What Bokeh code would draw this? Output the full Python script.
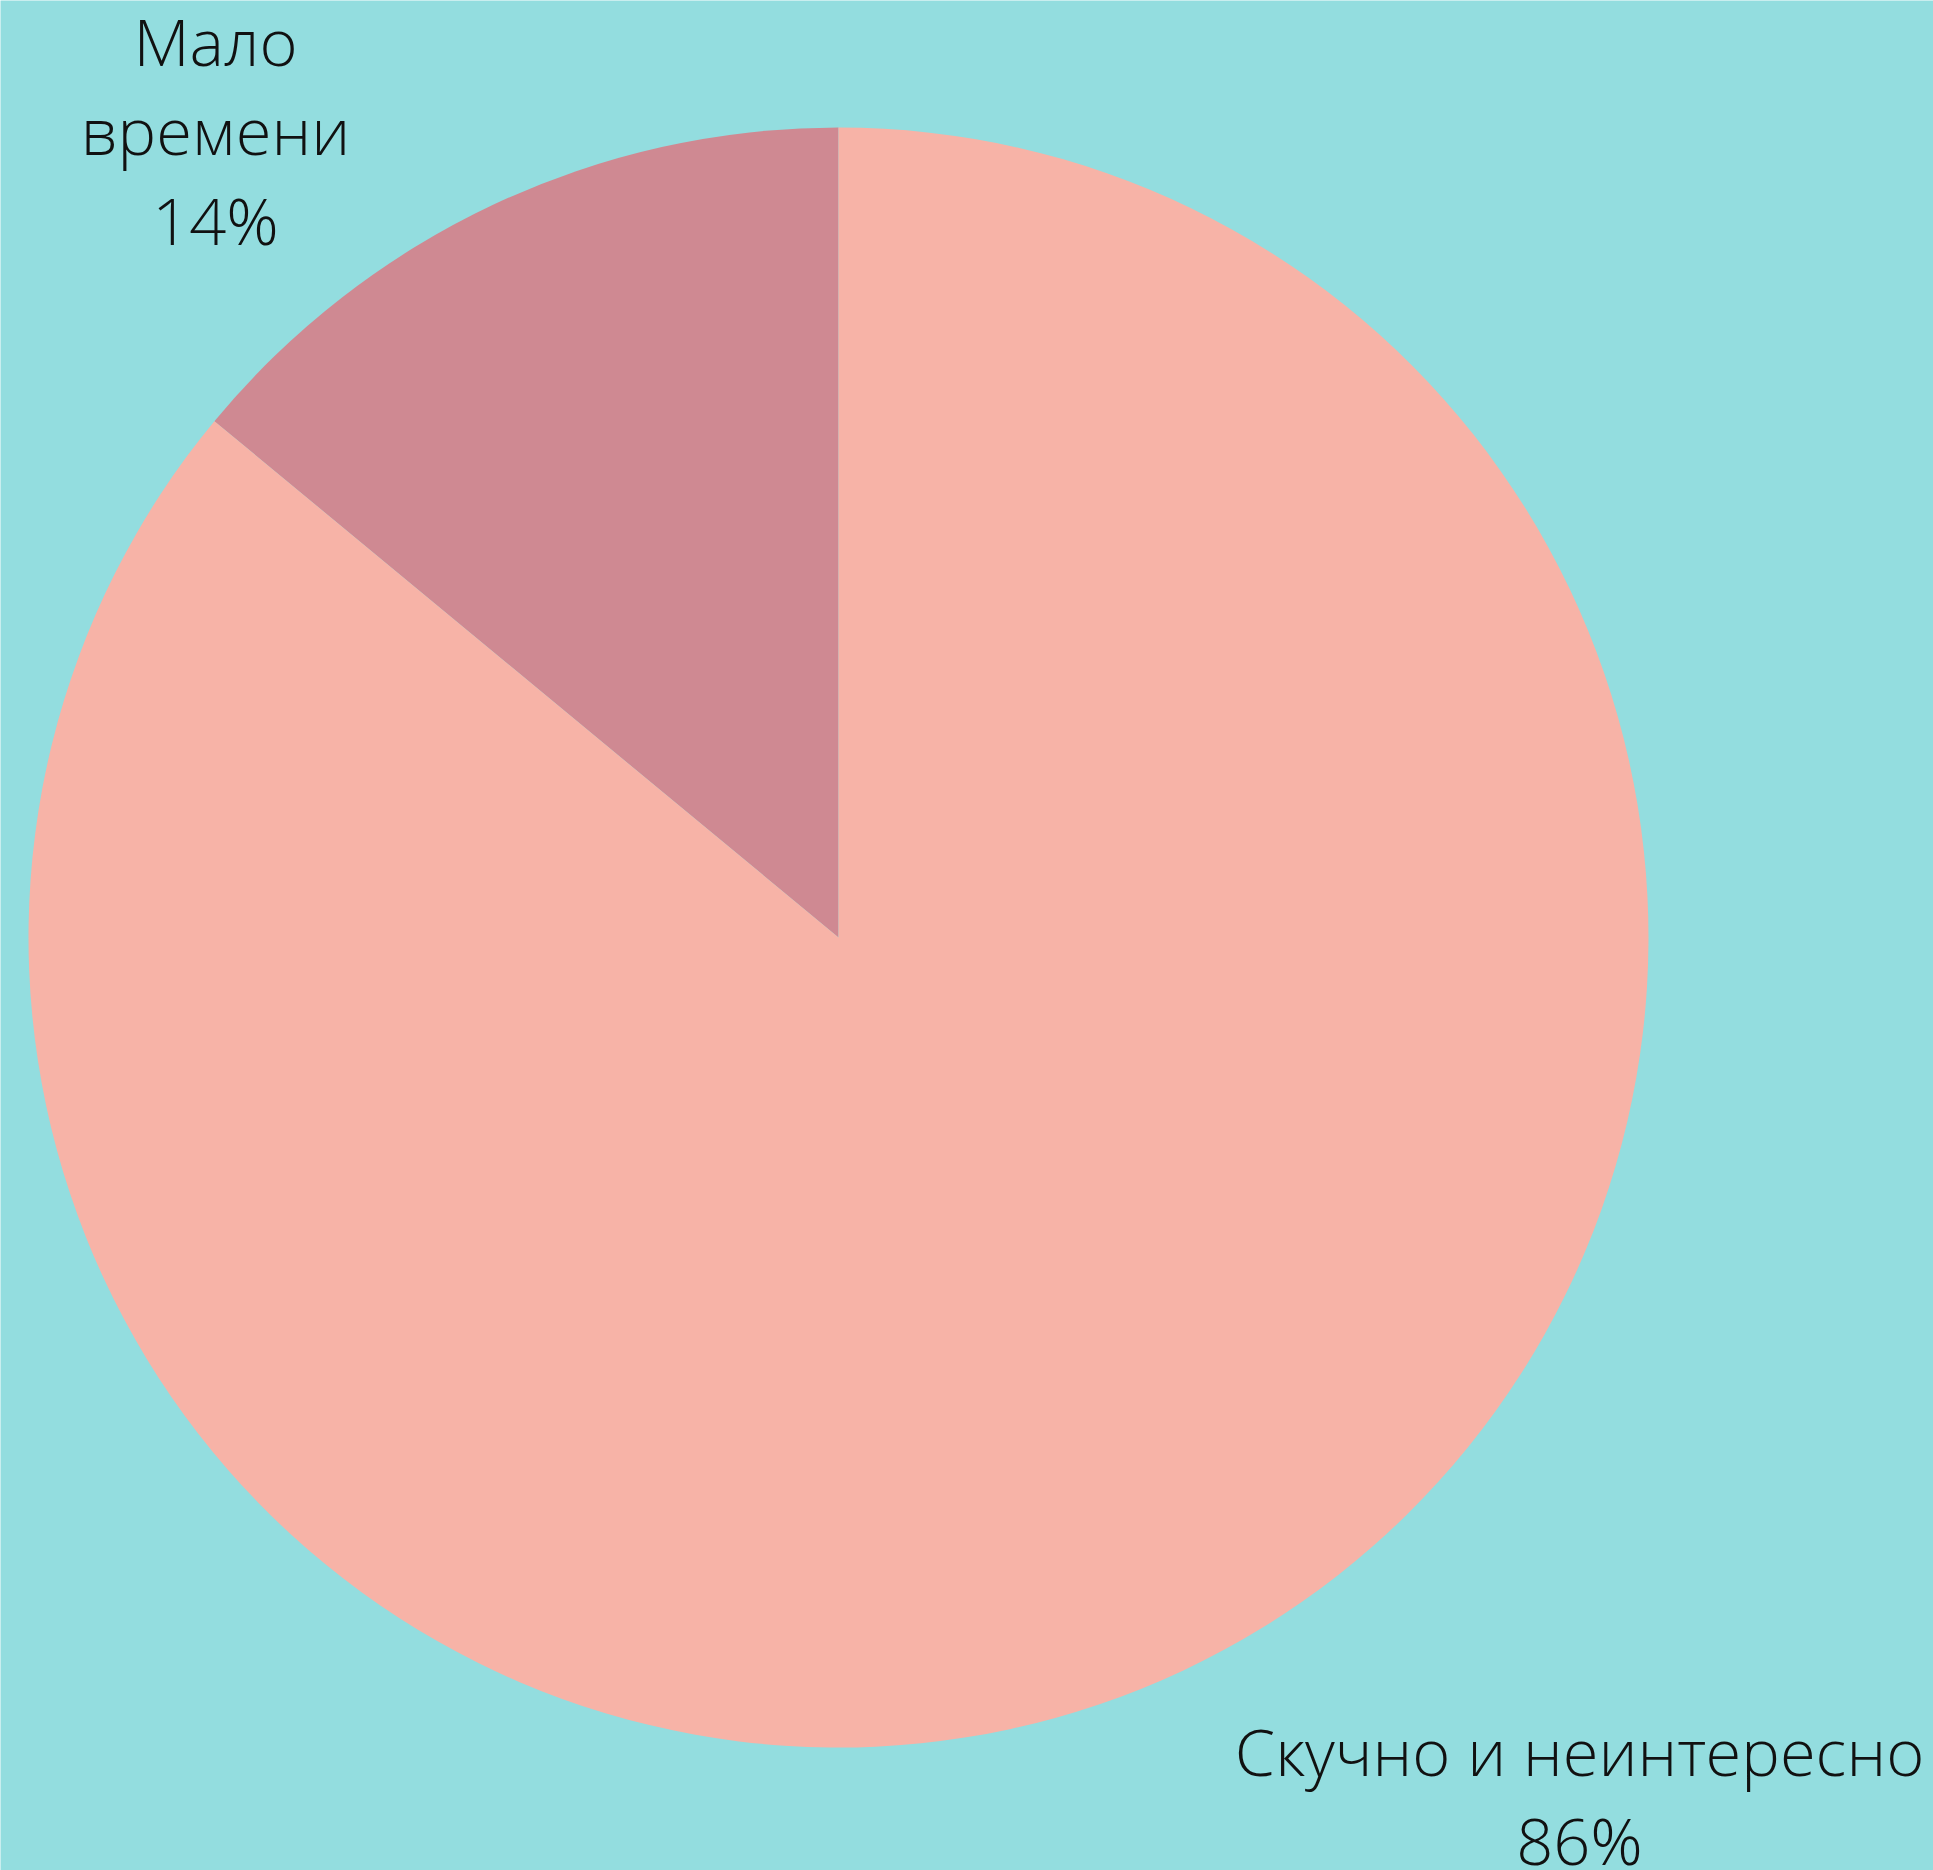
import math
from bokeh.plotting import figure
from bokeh.models import Range1d, ColumnDataSource
from bokeh.core.properties import value
from bokeh.embed import file_html
from bokeh.resources import INLINE

# ---- data ----
categories = ["Мало времени", "Скучно и неинтересно"]
display_names = ["Мало\nвремени", "Скучно и неинтересно"]
shares = [14, 86]
colors = ["#CF8992", "#F7B3A7"]

# ---- layout ----
W, H = 1933, 1870
BG = "#93DDDF"
cx, cy, R = 838, H - 937, 810
label_pos = [(215, H - 130), (1579, H - 1795)]

total = sum(shares)
start = math.pi / 2
starts, ends = [], []
a = start
for v in shares:
    starts.append(a)
    a = a + 2 * math.pi * v / total
    ends.append(a)

src = ColumnDataSource(dict(
    cat=categories, val=shares, color=colors,
    start=starts, end=ends,
    x=[cx] * len(shares), y=[cy] * len(shares),
))

p = figure(width=W, height=H, output_backend="svg", toolbar_location=None,
           x_range=Range1d(0, W), y_range=Range1d(0, H),
           min_border=0, background_fill_color=BG, border_fill_color=BG,
           outline_line_color=None)
p.axis.visible = False
p.grid.visible = False

p.wedge(x="x", y="y", radius=R, start_angle="start", end_angle="end",
        direction="anticlock", fill_color="color", line_color=None, source=src)

lab = ColumnDataSource(dict(
    x=[lp[0] for lp in label_pos], y=[lp[1] for lp in label_pos],
    text=[f"{n}\n{v}%" for n, v in zip(display_names, shares)],
))
p.text(x="x", y="y", text="text", source=lab, text_align="center",
       text_baseline="middle", text_font=value("Open Sans Light, Open Sans"),
       text_font_size="65px", text_line_height=1.02, text_color="#111111")

open("out.html", "w").write(file_html(p, INLINE))
